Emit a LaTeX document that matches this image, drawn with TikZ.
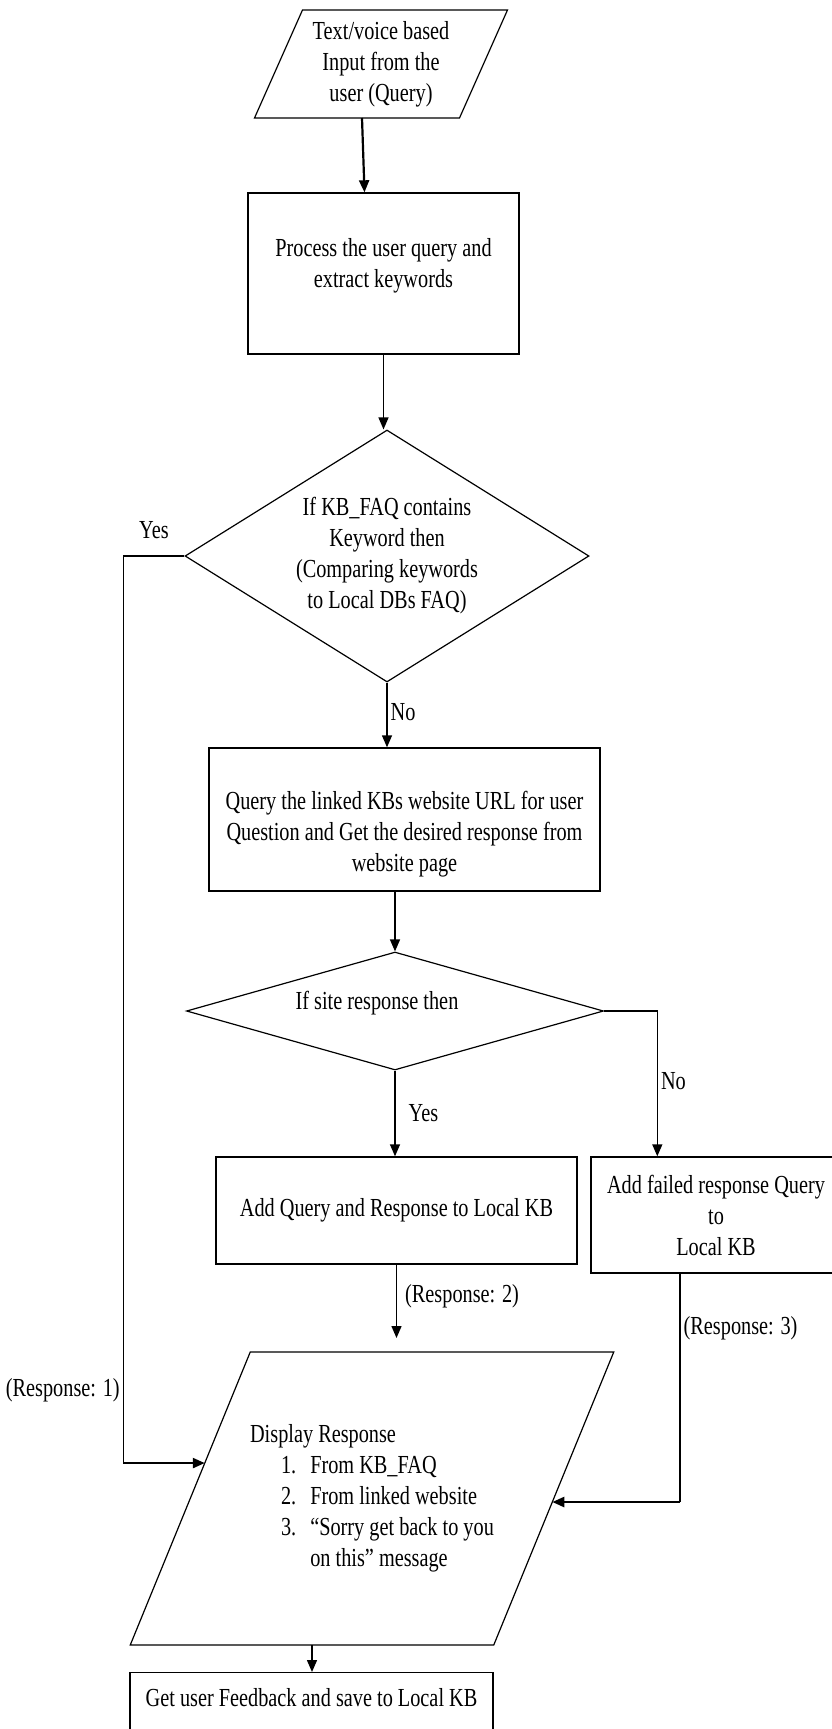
\documentclass[tikz,border=0pt]{standalone}
\usepackage{fontspec}
\setmainfont{Liberation Serif}[FakeStretch=0.78]
\usetikzlibrary{shapes.geometric, arrows.meta, calc}
\tikzset{
  qa box/.style={
    rectangle, draw=black, line width=1.4pt,
    align=center, inner sep=3pt
  },
  qa io/.style={
    rectangle, draw=none, outer sep=0pt,
    align=center, inner sep=3pt
  },
  qa outline/.style={
    draw=black, line width=1.2pt, line join=miter
  },
  qa decision/.style={
    diamond, draw=black, line width=1.2pt,
    align=center, inner sep=0pt
  },
  qa arrow/.style={
    -{Triangle[width=10pt,length=12pt]}, line width=1.4pt, draw=black
  },
  qa label/.style={
    inner sep=3pt
  }
}

\begin{document}
\begin{tikzpicture}[x=1pt, y=-1pt, font=\fontsize{26}{31}\selectfont]
  \useasboundingbox (0,0) rectangle (832,1729);

  \node (n1) [qa io, minimum width=205pt, minimum height=108pt] at (381,64)
    {Text/voice based\\Input from the\\user (Query)};
  \draw [qa outline] ([xshift=24pt]n1.north west) -- ([xshift=24pt]n1.north east)
    -- ([xshift=-24pt]n1.south east) -- ([xshift=-24pt]n1.south west) -- cycle;
  \node (n2) [qa box, minimum width=271pt, minimum height=161pt] at (383.5,273.5)
    {Process the user query and\\extract keywords\rule[-22pt]{0pt}{22pt}};
  \node (n3) [qa decision, aspect=1.6, minimum width=404pt, minimum height=252pt] at (387,556)
    {If KB\_FAQ contains\\Keyword then\\(Comparing keywords\\to Local DBs FAQ)};
  \node (n4) [qa box, minimum width=391pt, minimum height=143pt] at (404.5,819.5)
    {\rule{0pt}{48pt}Query the linked KBs website URL for user\\Question and Get the desired response from\\website page};
  \node (n5) [qa decision, aspect=3.5, minimum width=417pt, minimum height=118pt] at (395,1011)
    {If site response then\hspace*{36pt}\rule[-22pt]{0pt}{22pt}};
  \node (n6) [qa box, minimum width=361pt, minimum height=107pt] at (396.5,1210.5)
    {Add Query and Response to Local KB};
  \node (n7) [qa box, minimum width=250pt, minimum height=116pt] at (716,1215)
    {Add failed response Query\\to\\Local KB};
  \node (n8) [qa io, minimum width=363.5pt, minimum height=293pt] at (372,1498.5)
    {\begin{tabular}{@{\hspace{31pt}}l@{\hspace{14pt}}l@{}}
      \multicolumn{2}{@{}l@{}}{Display Response}\\
      1. & From KB\_FAQ\\
      2. & From linked website\\
      3. & “Sorry get back to you\\
         & on this” message
    \end{tabular}};
  \draw [qa outline] ([xshift=60pt]n8.north west) -- ([xshift=60pt]n8.north east)
    -- ([xshift=-60pt]n8.south east) -- ([xshift=-60pt]n8.south west) -- cycle;
  \node (n9) [qa box, anchor=north, minimum width=363pt,
    text height=18pt, text depth=50pt, inner ysep=16pt] at (311.5,1672)
    {Get user Feedback and save to Local KB};

  % points on the slanted sides of the display box
  \coordinate (r1) at ($([xshift=60pt]n8.north west)!0.379!([xshift=-60pt]n8.south west)$);
  \coordinate (r3) at ($([xshift=60pt]n8.north east)!0.512!([xshift=-60pt]n8.south east)$);

  \draw [qa arrow, line width=2.2pt] ([xshift=-19pt]n1.south) -- ([xshift=-19pt]n2.north);
  \draw [qa arrow] (n2.south) -- (n2.south |- n3.north);
  \draw [qa arrow] (n3.south) -- node[qa label, right, pos=0.45] {No} (n3.south |- n4.north);
  \draw [qa arrow] (n4.south -| n5.north) -- (n5.north);
  \draw [qa arrow] (n5.south) -- node[qa label, right=10pt] {Yes} (n5.south |- n6.north);
  \draw [qa arrow] (n5.east) -| node[qa label, right, pos=0.74] {No} ([xshift=67pt]n7.north west);
  \draw [qa arrow, shorten >=14pt] (n6.south) -- node[qa label, right=5pt, pos=0.36] {(Response: 2)} (n6.south |- n8.north);

  \draw [line width=1.4pt] ([xshift=-36pt]n7.south) -- node[qa label, right, pos=0.24] {(Response: 3)}
    ([xshift=-36pt]n7.south |- r3) coordinate (c3);
  \draw [qa arrow, line width=2.4pt] (c3) -- (r3);

  \draw [line width=1.4pt] (n3.west) -- node[qa label, above=14pt] {Yes} ++(-61,0) coordinate (c1)
    -- node[qa label, left, pos=0.92] {(Response: 1)} (c1 |- r1) coordinate (c2);
  \draw [qa arrow, line width=2.4pt] (c2) -- (r1);

  \draw [qa arrow] ([xshift=-60pt]n8.south) -- ([xshift=-60pt]n8.south |- n9.north);
\end{tikzpicture}
\end{document}
